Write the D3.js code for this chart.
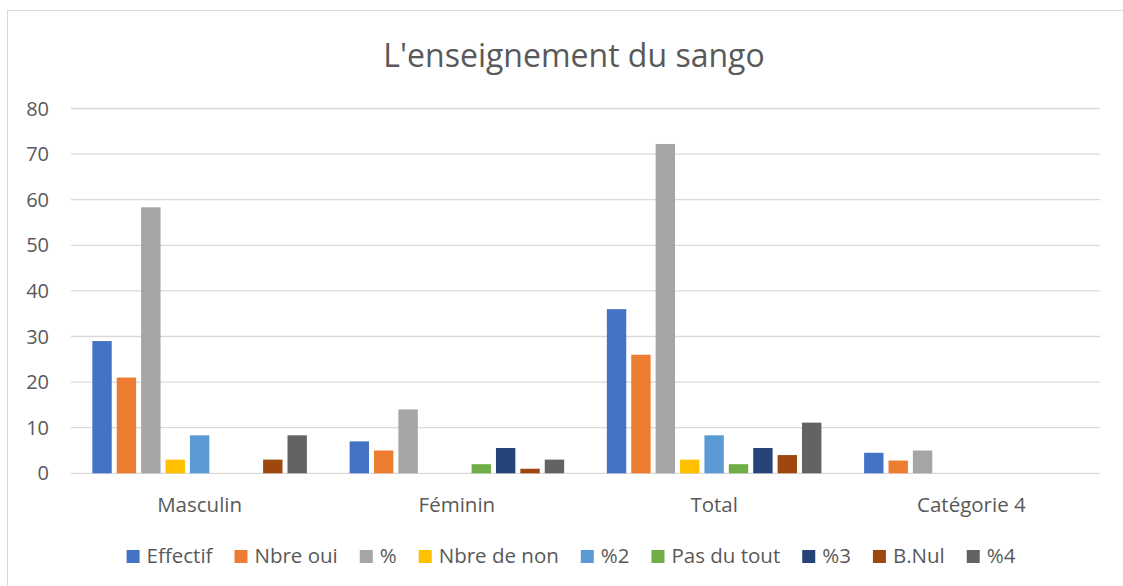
<!DOCTYPE html>
<html>
<head>
<meta charset="utf-8">
<script src="https://cdn.jsdelivr.net/npm/d3@7"></script>
<style>
body { margin: 0; background: #fff; }
text { font-family: "Open Sans", "Noto Sans", sans-serif; fill: #595959; }
</style>
</head>
<body>
<svg></svg>
<script>
// Data
const categories = ["Masculin", "Féminin", "Total", "Catégorie 4"];
const seriesNames = ["Effectif", "Nbre oui", "%", "Nbre de non", "%2", "Pas du tout", "%3", "B.Nul", "%4"];
const effectif  = [29, 7, 36, 4.5];
const nbreOui   = [21, 5, 26, 2.8];
const pct       = [58.33, 14, 72.22, 5];
const nbreNon   = [3, 0, 3, 0];
const pct2      = [8.33, 0, 8.33, 0];
const pasDuTout = [0, 2, 2, 0];
const pct3      = [0, 5.55, 5.55, 0];
const bNul      = [3, 1, 4, 0];
const pct4      = [8.33, 3, 11.11, 0];
const yTicks = [0, 10, 20, 30, 40, 50, 60, 70, 80];
const colors = ["#4472C4", "#ED7D31", "#A5A5A5", "#FFC000", "#5B9BD5", "#70AD47", "#264478", "#9E480E", "#636363"];

const seriesValues = [effectif, nbreOui, pct, nbreNon, pct2, pasDuTout, pct3, bNul, pct4];

// Set up SVG dimensions
const width = 1123;
const height = 586;
const margin = { top: 108.5, right: 23, bottom: 112.7, left: 71 };

const svg = d3.select("svg")
.attr("width", width)
.attr("height", height);

// Chart border
svg.append("rect")
.attr("x", 7.5)
.attr("y", 10.5)
.attr("width", width + 20)
.attr("height", height + 20)
.attr("fill", "none")
.attr("stroke", "#d9d9d9");

// Title
svg.append("text")
.attr("x", 574)
.attr("y", 67)
.attr("text-anchor", "middle")
.style("font-size", "32px")
.text("L'enseignement du sango");

// Scales
const x0 = d3.scaleBand()
.domain(categories)
.range([margin.left, width - margin.right]);

const groupW = x0.bandwidth() * 0.834;
const x1 = d3.scaleBand()
.domain(seriesNames)
.range([0, groupW])
.paddingInner(0.205);

const y = d3.scaleLinear()
.domain([0, 80])
.range([height - margin.bottom, margin.top]);

// Gridlines
svg.append("g")
.selectAll("line")
.data(yTicks)
.enter()
.append("line")
.attr("x1", margin.left)
.attr("x2", width - margin.right)
.attr("y1", d => y(d))
.attr("y2", d => y(d))
.attr("stroke", "#d9d9d9")
.attr("stroke-width", 1.3);

// Y tick labels
svg.append("g")
.selectAll("text")
.data(yTicks)
.enter()
.append("text")
.attr("x", 49)
.attr("y", d => y(d))
.attr("dy", "0.35em")
.attr("text-anchor", "end")
.style("font-size", "20px")
.text(d => d);

// Bars
const group = svg.append("g")
.selectAll("g")
.data(categories)
.enter()
.append("g")
.attr("transform", d => `translate(${x0(d) + (x0.bandwidth() - groupW) / 2},0)`);

group.selectAll("rect")
.data((c, i) => seriesNames.map((s, j) => ({ s, j, v: seriesValues[j][i] })))
.enter()
.append("rect")
.filter(d => d.v > 0)
.attr("x", d => x1(d.s))
.attr("width", x1.bandwidth())
.attr("y", d => y(d.v))
.attr("height", d => y(0) - y(d.v))
.attr("fill", d => colors[d.j]);

// Category labels
svg.append("g")
.selectAll("text")
.data(categories)
.enter()
.append("text")
.attr("x", d => x0(d) + x0.bandwidth() / 2)
.attr("y", 512)
.attr("text-anchor", "middle")
.style("font-size", "20.5px")
.text(d => d);

// Legend
const legend = svg.append("g");
const items = legend.selectAll("g")
.data(seriesNames)
.enter()
.append("g");

items.append("rect")
.attr("width", 13)
.attr("height", 13)
.attr("y", -13)
.attr("fill", (d, i) => colors[i]);

items.append("text")
.attr("x", 20)
.style("font-size", "20.5px")
.text(d => d);

// Lay out legend items horizontally, centered
let lx = 0;
items.each(function() {
const w = this.querySelector("text").getComputedTextLength();
d3.select(this).attr("transform", `translate(${lx},0)`);
lx += 20 + w + 22;
});
lx -= 22;
legend.attr("transform", `translate(${571 - lx / 2},563)`);
</script>
</body>
</html>
